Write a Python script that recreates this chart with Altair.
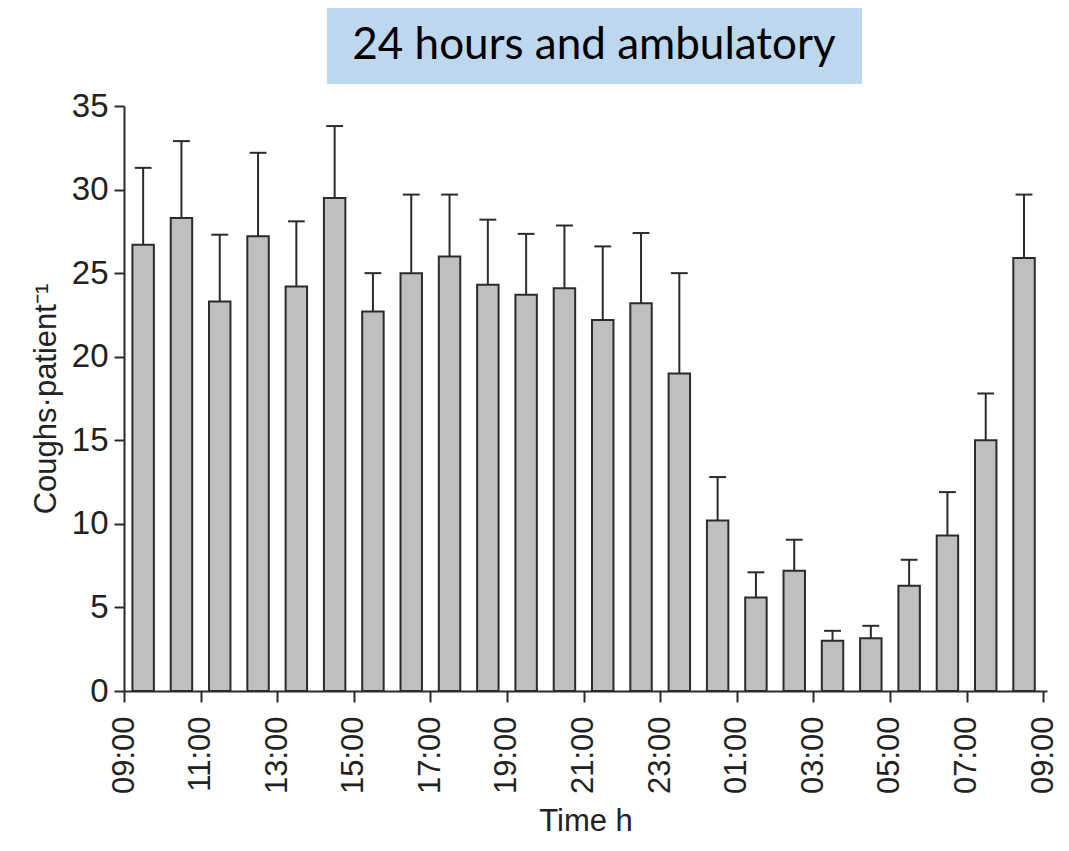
import altair as alt
import pandas as pd

# ---- data ----
start_hours = list(range(9, 33))  # hourly bins from 09:00 to next day's 08:00
coughs = [26.7, 28.3, 23.3, 27.2, 24.2, 29.5, 22.7, 25.0, 26.0, 24.3, 23.7, 24.1,
          22.2, 23.2, 19.0, 10.2, 5.6, 7.2, 3.0, 3.15, 6.3, 9.3, 15.0, 25.9]
sem = [4.6, 4.6, 4.0, 5.0, 3.9, 4.3, 2.3, 4.7, 3.7, 3.9, 3.65, 3.75,
       4.4, 4.2, 6.0, 2.6, 1.5, 1.85, 0.6, 0.75, 1.55, 2.6, 2.8, 3.8]
tick_hours = [9, 11, 13, 15, 17, 19, 21, 23, 25, 27, 29, 31, 33]
y_ticks = [0, 5, 10, 15, 20, 25, 30, 35]
title_text = "24 hours and ambulatory"
x_title = "Time h"
y_title = "Coughs·patient⁻¹"

df = pd.DataFrame({"start": start_hours, "coughs": coughs, "sem": sem})
df["x0"] = df["start"] + 0.22
df["x1"] = df["start"] + 0.78
df["mid"] = df["start"] + 0.5
df["upper"] = df["coughs"] + df["sem"]
df["c0"] = df["mid"] - 0.22
df["c1"] = df["mid"] + 0.22

FONT = "Liberation Sans"
DARK = "#2b2b2b"

x_scale = alt.Scale(domain=[9, 33.1], nice=False, zero=False)
y_scale = alt.Scale(domain=[0, 35], nice=False)

x_axis = alt.Axis(
    values=tick_hours,
    labelExpr="(datum.value % 24 < 10 ? '0' : '') + (datum.value % 24) + ':00'",
    labelAngle=-90, labelAlign="right", labelBaseline="middle",
    labelFont=FONT, labelFontSize=31, labelColor="#222", labelPadding=14,
    tickSize=11, tickWidth=2, tickColor=DARK,
    domainColor=DARK, domainWidth=2, grid=False,
    title=x_title, titleFont=FONT, titleFontSize=31, titleFontWeight="normal",
    titleColor="#222", titlePadding=13,
)
y_axis = alt.Axis(
    values=y_ticks, labelFont=FONT, labelFontSize=33, labelColor="#222",
    labelPadding=6, tickSize=10, tickWidth=2, tickColor=DARK,
    domainColor=DARK, domainWidth=2, grid=False,
    title=y_title, titleFont=FONT, titleFontSize=31, titleFontWeight="normal",
    titleColor="#222", titlePadding=9,
)

base = alt.Chart(df)

err_line = base.mark_rule(color=DARK, strokeWidth=2).encode(
    x=alt.X("mid:Q", scale=x_scale, axis=x_axis),
    y=alt.Y("coughs:Q", scale=y_scale, axis=y_axis),
    y2="upper:Q",
)
err_cap = base.mark_rule(color=DARK, strokeWidth=2).encode(
    x="c0:Q", x2="c1:Q", y="upper:Q",
)
bars = base.mark_bar(fill="#bebfc1", stroke=DARK, strokeWidth=2).encode(
    x="x0:Q", x2="x1:Q", y="coughs:Q", y2=alt.datum(0),
)

tdf = pd.DataFrame({"t": [title_text]})
title_box = alt.Chart(tdf).mark_rect(color="#bdd7ee").encode(
    x=alt.value(203), x2=alt.value(738), y=alt.value(-99), y2=alt.value(-22),
)
title_txt = alt.Chart(tdf).mark_text(
    font="Lato", fontSize=44, color="black", align="center", baseline="middle"
).encode(x=alt.value(470), y=alt.value(-60), text="t:N")

chart = alt.layer(err_line, err_cap, bars, title_box, title_txt).properties(
    width=923, height=585,
    padding={"left": 116, "top": 98, "right": 14, "bottom": 152},
    autosize=alt.AutoSizeParams(type="none"),
).configure_view(stroke=None)

chart.save("out.html", embed_options={"renderer": "svg", "actions": False})
